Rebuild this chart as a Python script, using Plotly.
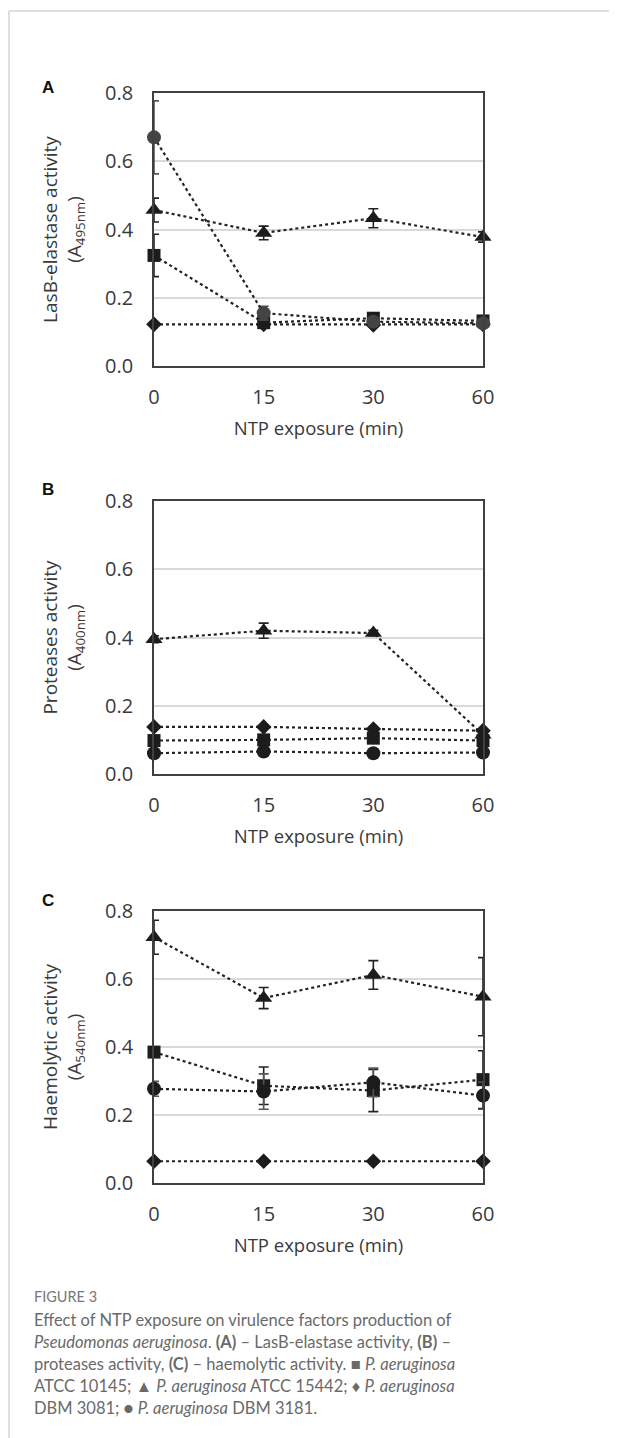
import plotly.graph_objects as go

# ---------------- data ----------------
times = ["0", "15", "30", "60"]
strains = ["P. aeruginosa ATCC 10145", "P. aeruginosa ATCC 15442",
           "P. aeruginosa DBM 3081", "P. aeruginosa DBM 3181"]
y_ticks = [0.0, 0.2, 0.4, 0.6, 0.8]

# Panel A - LasB-elastase activity (A495nm)
lasb_10145 = [0.324, 0.127, 0.140, 0.132]
lasb_15442 = [0.457, 0.390, 0.433, 0.378]
lasb_3081 = [0.122, 0.122, 0.120, 0.122]
lasb_3181 = [0.670, 0.155, 0.130, 0.125]
lasb_10145_err = [0.062, 0.010, 0.010, 0.010]
lasb_15442_err = [0.035, 0.020, 0.028, 0.015]
lasb_3081_err = [0.004, 0.004, 0.004, 0.004]
lasb_3181_err = [0.107, 0.020, 0.010, 0.008]

# Panel B - Proteases activity (A400nm)
prot_10145 = [0.098, 0.100, 0.105, 0.098]
prot_15442 = [0.395, 0.420, 0.413, 0.115]
prot_3081 = [0.138, 0.138, 0.132, 0.127]
prot_3181 = [0.061, 0.066, 0.061, 0.063]
prot_10145_err = [0.008, 0.006, 0.008, 0.006]
prot_15442_err = [0.010, 0.022, 0.008, 0.006]
prot_3081_err = [0.004, 0.004, 0.004, 0.004]
prot_3181_err = [0.004, 0.004, 0.004, 0.004]

# Panel C - Haemolytic activity (A540nm)
haem_10145 = [0.385, 0.286, 0.272, 0.304]
haem_15442 = [0.723, 0.544, 0.612, 0.548]
haem_3081 = [0.064, 0.064, 0.064, 0.064]
haem_3181 = [0.277, 0.269, 0.296, 0.257]
haem_10145_err = [0.010, 0.055, 0.062, 0.085]
haem_15442_err = [0.050, 0.031, 0.042, 0.115]
haem_3081_err = [0.003, 0.003, 0.003, 0.003]
haem_3181_err = [0.022, 0.052, 0.042, 0.040]

panel_letters = ["A", "B", "C"]
y_titles = ["LasB-elastase activity<br>(A<sub>495nm</sub>)",
            "Proteases activity<br>(A<sub>400nm</sub>)",
            "Haemolytic activity<br>(A<sub>540nm</sub>)"]
x_title = "NTP exposure (min)"

caption_head = "FIGURE 3"
caption_lines = [
    "Effect of NTP exposure on virulence factors production of",
    "<i>Pseudomonas aeruginosa</i>. <b>(A)</b> – LasB-elastase activity, <b>(B)</b> –",
    "proteases activity, <b>(C)</b> – haemolytic activity. ■ <i>P. aeruginosa</i>",
    "ATCC 10145; ▲ <i>P. aeruginosa</i> ATCC 15442; ♦ <i>P. aeruginosa</i>",
    "DBM 3081; ● <i>P. aeruginosa</i> DBM 3181.",
]

panels = [
    [(lasb_10145, lasb_10145_err), (lasb_15442, lasb_15442_err),
     (lasb_3081, lasb_3081_err), (lasb_3181, lasb_3181_err)],
    [(prot_10145, prot_10145_err), (prot_15442, prot_15442_err),
     (prot_3081, prot_3081_err), (prot_3181, prot_3181_err)],
    [(haem_10145, haem_10145_err), (haem_15442, haem_15442_err),
     (haem_3081, haem_3081_err), (haem_3181, haem_3181_err)],
]

# ---------------- layout geometry (window pixels) ----------------
OFF = 8                      # default page body margin
W, H = 617 - OFF, 1438 - OFF
X0, X1 = 154, 483
panel_px = [(93, 366), (501, 774), (911, 1183)]
letter_y = [87, 489, 900]


def fx(px):
    return (px - OFF) / W


def fy(py):
    return 1 - (py - OFF) / H


symbols = ["square", "triangle-up", "diamond", "circle"]
sizes = [13, 15, 12, 14]

TICKFONT = dict(family="Open Sans", size=20, color="#3a3a3a")
YTITLEFONT = dict(family="Open Sans", size=19, color="#3a3a3a")
XTITLEFONT = dict(family="Open Sans", size=18.5, color="#3a3a3a")

fig = go.Figure()

for p, series in enumerate(panels):
    ax = "" if p == 0 else str(p + 1)
    for s, (vals, errs) in enumerate(series):
        col = "#1c1c1c"
        if p == 0 and s == 3:
            col = "#444444"
        ecol = "#555555" if s == 3 else "#222222"
        fig.add_trace(go.Scatter(
            x=times, y=vals, name=strains[s], showlegend=False,
            xaxis="x" + ax, yaxis="y" + ax,
            mode="lines+markers", cliponaxis=False,
            line=dict(color="#222222", width=2.2, dash="dot"),
            marker=dict(symbol=symbols[s], size=sizes[s], color=col,
                        line=dict(width=0)),
            error_y=dict(type="data", array=errs, visible=True,
                         color=ecol, thickness=1.6, width=5),
        ))

layout = dict(
    width=W, height=H,
    margin=dict(l=0, r=0, t=0, b=0),
    paper_bgcolor="white", plot_bgcolor="white",
    showlegend=False,
)

for p, (top, bot) in enumerate(panel_px):
    ax = "" if p == 0 else str(p + 1)
    layout["xaxis" + ax] = dict(
        domain=[fx(X0), fx(X1)], anchor="y" + ax,
        type="category", range=[0, 3],
        showline=True, mirror=True, linecolor="#404040", linewidth=1.6,
        showgrid=False, zeroline=False, ticks="",
        tickfont=TICKFONT, ticklabelstandoff=12,
        title=dict(text=x_title, font=XTITLEFONT, standoff=13),
        automargin=False,
    )
    layout["yaxis" + ax] = dict(
        domain=[fy(bot), fy(top)], anchor="x" + ax,
        range=[0, 0.8], tickvals=y_ticks, tickformat=".1f",
        showline=True, mirror=True, linecolor="#404040", linewidth=1.6,
        showgrid=True, gridcolor="#d9d9d9", gridwidth=1.5,
        zeroline=False, ticks="",
        tickfont=TICKFONT, ticklabelstandoff=15,
        title=dict(text=y_titles[p], font=YTITLEFONT, standoff=18),
        automargin=False,
    )

annotations = []
for p, letter in enumerate(panel_letters):
    annotations.append(dict(
        text="<b>%s</b>" % letter, x=fx(48), y=fy(letter_y[p]),
        xref="paper", yref="paper", showarrow=False,
        xanchor="center", yanchor="middle",
        font=dict(family="Liberation Sans", size=17, color="#111111"),
    ))

annotations.append(dict(
    text=caption_head, x=fx(32), y=fy(1296),
    xref="paper", yref="paper", showarrow=False,
    xanchor="left", yanchor="middle",
    font=dict(family="Lato", size=14.5, color="#777777"),
))
for i, line in enumerate(caption_lines):
    annotations.append(dict(
        text=line, x=fx(32), y=fy(1320 + 22 * i),
        xref="paper", yref="paper", showarrow=False,
        xanchor="left", yanchor="middle", align="left",
        font=dict(family="Lato", size=16.5, color="#6a6a6a"),
    ))

layout["annotations"] = annotations
layout["shapes"] = [
    dict(type="line", xref="paper", yref="paper",
         x0=fx(9), x1=1, y0=fy(11), y1=fy(11),
         line=dict(color="#d4d4d4", width=1.5)),
    dict(type="line", xref="paper", yref="paper",
         x0=fx(9), x1=fx(9), y0=0, y1=fy(11),
         line=dict(color="#d4d4d4", width=1.5)),
]

fig.update_layout(**layout)
fig.write_html("out.html")
